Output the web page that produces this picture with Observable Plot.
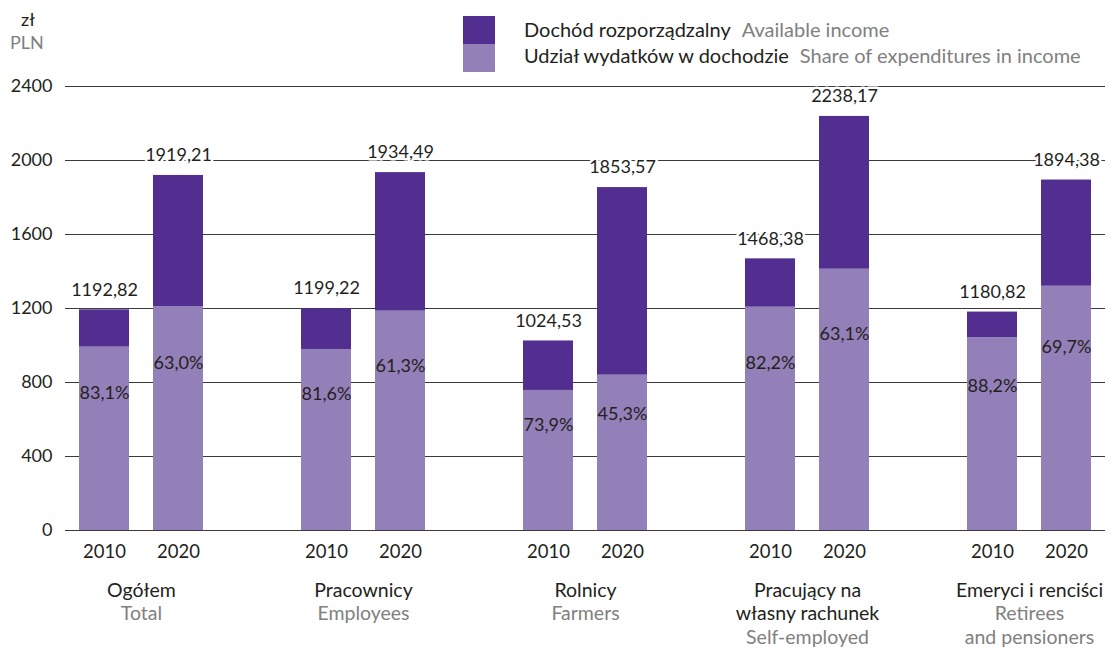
<!DOCTYPE html>
<html>
<head>
<meta charset="utf-8">
<script src="https://cdn.jsdelivr.net/npm/d3@7"></script>
<script src="https://cdn.jsdelivr.net/npm/@observablehq/plot@0.6"></script>
<style>
  html, body { margin: 0; padding: 0; background: #fff; }
  body { font-family: Lato, "Open Sans", sans-serif; color: #231f20; width: 1117px; height: 648px; overflow: hidden; }
  #head { position: relative; height: 76px; }
  .unit1 { position: absolute; left: 21px; top: 8px; font-size: 18px; color: #231f20; }
  .unit2 { position: absolute; left: 10px; top: 31px; font-size: 18px; color: #808080; }
  .sw { position: absolute; left: 463px; width: 32px; height: 28px; }
  .lg { position: absolute; left: 524px; font-size: 20px; white-space: nowrap; line-height: 24px; }
  .lg span { color: #808080; margin-left: 11px; }
  #chart svg { display: block; }
</style>
</head>
<body>
<div id="head">
  <div class="unit1">zł</div>
  <div class="unit2">PLN</div>
  <div class="sw" style="top:16px;background:#512e8f"></div>
  <div class="sw" style="top:44px;background:#9380b9"></div>
  <div class="lg" style="top:17px">Dochód rozporządzalny<span>Available income</span></div>
  <div class="lg" style="top:43px">Udział wydatków w dochodzie<span>Share of expenditures in income</span></div>
</div>
<div id="chart"></div>
<script>
const groupsPl = ["Ogółem", "Pracownicy", "Rolnicy", "Pracujący na\nwłasny rachunek", "Emeryci i renciści"];
const groupsEn = ["Total", "Employees", "Farmers", "Self-employed", "Retirees\nand pensioners"];
const years = ["2010", "2020"];
const income2010 = [1192.82, 1199.22, 1024.53, 1468.38, 1180.82];
const income2020 = [1919.21, 1934.49, 1853.57, 2238.17, 1894.38];
const share2010 = [83.1, 81.6, 73.9, 82.2, 88.2];
const share2020 = [63.0, 61.3, 45.3, 63.1, 69.7];
const yTicks = [0, 400, 800, 1200, 1600, 2000, 2400];

const DARK = "#512e8f", LIGHT = "#9380b9", INK = "#231f20", GRAY = "#808080";

const rows = [];
const domain = [];
groupsPl.forEach((g, i) => {
  years.forEach((yr, j) => {
    const total = j === 0 ? income2010[i] : income2020[i];
    const share = j === 0 ? share2010[i] : share2020[i];
    const key = i + "|" + yr;
    domain.push(key);
    rows.push({key, group: i, year: yr, total, share, light: total * share / 100});
  });
  if (i < groupsPl.length - 1) domain.push("gap" + i);
});

const fmt = v => v.toFixed(2).replace(".", ",");
const fmtPct = v => v.toFixed(1).replace(".", ",") + "%";

// group label lines
const labelLines = [];
groupsPl.forEach((g, i) => {
  const pl = g.split("\n"), en = groupsEn[i].split("\n");
  pl.forEach((t, k) => labelLines.push({key: i + "|2010", text: t, line: k, lang: "pl"}));
  en.forEach((t, k) => labelLines.push({key: i + "|2010", text: t, line: pl.length + k, lang: "en"}));
});

const lineMarks = [];
for (let k = 0; k < 3; k++) {
  for (const lang of ["pl", "en"]) {
    lineMarks.push(Plot.text(labelLines.filter(d => d.line === k && d.lang === lang), {
      x: "key", text: "text", frameAnchor: "bottom", dx: 37, dy: 60 + 23.5 * k,
      fill: lang === "pl" ? INK : GRAY, fontSize: 19.5, lineAnchor: "middle", textAnchor: "middle"
    }));
  }
}

const chart = Plot.plot({
  width: 1117,
  height: 572,
  marginTop: 10,
  marginBottom: 118,
  marginLeft: 65,
  marginRight: 12,
  style: {fontFamily: "Lato, 'Open Sans', sans-serif", color: INK, background: "#fff", overflow: "visible"},
  x: {domain, paddingInner: 0.33, paddingOuter: 0.165, axis: null},
  y: {domain: [0, 2400], axis: null},
  marks: [
    Plot.ruleY(yTicks, {stroke: "#3a3a3a", strokeWidth: 1.2}),
    Plot.text(yTicks, {x: null, y: d => d, text: d => String(d), frameAnchor: "left", textAnchor: "end", dx: -13, fontSize: 18, fill: INK, lineAnchor: "middle"}),
    Plot.barY(rows, {x: "key", y1: 0, y2: "light", fill: LIGHT}),
    Plot.barY(rows, {x: "key", y1: "light", y2: "total", fill: DARK}),
    Plot.text(rows, {x: "key", y: "total", text: d => fmt(d.total), dy: -20, fontSize: 18, fill: INK, stroke: "white", strokeWidth: 5, paintOrder: "stroke", lineAnchor: "middle"}),
    Plot.text(rows, {x: "key", y: d => d.light * 0.75, text: d => fmtPct(d.share), fontSize: 18, fill: INK, lineAnchor: "middle"}),
    Plot.text(rows, {x: "key", text: "year", frameAnchor: "bottom", dy: 22, fontSize: 18.5, fill: INK, lineAnchor: "middle"}),
    ...lineMarks
  ]
});
document.getElementById("chart").appendChild(chart);
</script>
</body>
</html>
